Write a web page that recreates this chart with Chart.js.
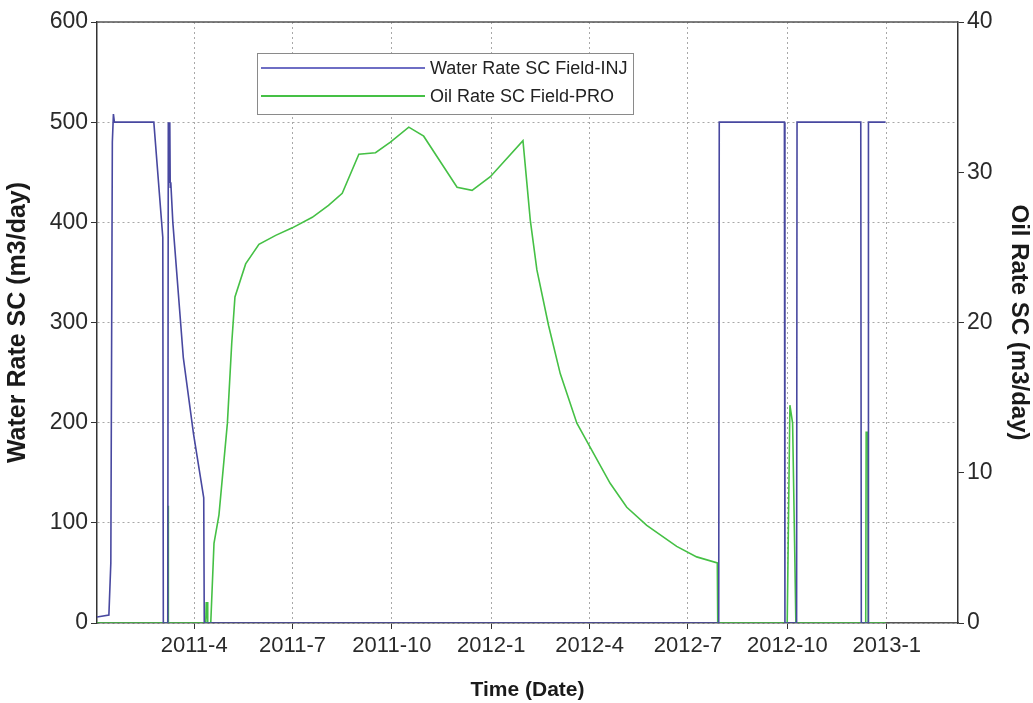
<!DOCTYPE html>
<html>
<head>
<meta charset="utf-8">
<title>Field rates</title>
<script src="https://cdn.jsdelivr.net/npm/chart.js@4"></script>
<style>
  html, body { margin: 0; padding: 0; background: #fff; }
  canvas { display: block; }
</style>
</head>
<body>
<canvas id="rateChart" width="1033" height="703"></canvas>
<script>
// time axis is in days counted from 2011-01-01
const tickDays = [90, 181, 273, 365, 456, 547, 639, 731];
const tickLabels = ['2011-4', '2011-7', '2011-10', '2012-1', '2012-4', '2012-7', '2012-10', '2013-1'];

// water injection rate, m3/day (left axis)
const waterDays = [0, 11, 12.8, 14.2, 15.2, 16.1, 52.6, 60.9, 61.4, 65.5, 66, 66.9, 67.4, 67.8, 68.3, 70.2,
  79.9, 89.3, 98.8, 99.3, 575.5, 576, 636.3, 636.8, 647.6, 648, 707, 707.5, 713.7, 714.1, 730];
const waterRate = [6, 8, 60, 480, 508, 500, 500, 385, 0, 0, 500, 440, 500, 435, 440, 400,
  265, 189, 125, 0, 0, 500, 500, 0, 0, 500, 500, 0, 0, 500, 500];

// oil production rate, m3/day (right axis)
const oilDays = [0, 65.9, 66, 66.1, 100.7, 101.1, 101.6, 102, 102.5, 105.3, 108.3, 112.9, 120.7, 124.7, 127.7,
  137.6, 149.9, 165.4, 180.8, 199.3, 214.3, 227, 242.4, 257.8, 271.6, 288.6, 302.4, 333.3, 347.2, 364.1,
  394.3, 401.1, 407.2, 418, 428.8, 444.2, 454.9, 475, 490.4, 508.9, 536.6, 555.1, 574.2, 574.6,
  638.9, 641.4, 643.9, 646, 646.9, 711.6, 712, 713.5, 713.9, 730];
const oilRate = [0, 0, 7.8, 0, 0, 1.4, 0.3, 1.4, 0, 0, 5.3, 7.2, 13.3, 18.6, 21.7,
  23.9, 25.2, 25.8, 26.3, 27.0, 27.8, 28.6, 31.2, 31.3, 32.0, 33.0, 32.4, 29.0, 28.8, 29.7,
  32.1, 26.8, 23.5, 19.8, 16.6, 13.3, 11.9, 9.3, 7.7, 6.5, 5.1, 4.4, 4.0, 0,
  0, 14.5, 13.3, 4.2, 0, 0, 12.7, 12.7, 0, 0];

const seriesNames = ['Water Rate SC Field-INJ', 'Oil Rate SC Field-PRO'];
const seriesColors = ['#4848a0', '#45c045'];
const legendColors = ['#6e6ec4', '#45c045'];

const toPoints = (xs, ys) => xs.map((x, i) => ({x: x, y: ys[i]}));

const FONT = '"Liberation Sans", Arial, sans-serif';

// legend sits inside the plot, with long line samples
const insideLegend = {
  id: 'insideLegend',
  afterDatasetsDraw(chart) {
    const ctx = chart.ctx;
    const x0 = 257, y0 = 53, w = 376, h = 61;
    ctx.save();
    ctx.fillStyle = '#fff';
    ctx.fillRect(x0, y0, w, h);
    ctx.strokeStyle = '#8a8a8a';
    ctx.lineWidth = 1;
    ctx.strokeRect(x0 + 0.5, y0 + 0.5, w, h);
    ctx.font = '18px ' + FONT;
    ctx.textBaseline = 'middle';
    chart.data.datasets.forEach((ds, i) => {
      const y = y0 + 15 + i * 28;
      ctx.strokeStyle = legendColors[i];
      ctx.lineWidth = 2;
      ctx.beginPath();
      ctx.moveTo(x0 + 4, y);
      ctx.lineTo(x0 + 168, y);
      ctx.stroke();
      ctx.fillStyle = '#222';
      ctx.fillText(ds.label, x0 + 173, y + 1);
    });
    ctx.restore();
  }
};

// closing line along the top of the plot box
const topFrame = {
  id: 'topFrame',
  afterDraw(chart) {
    const a = chart.chartArea, ctx = chart.ctx;
    ctx.save();
    ctx.strokeStyle = '#555';
    ctx.lineWidth = 1.5;
    ctx.beginPath();
    ctx.moveTo(a.left, a.top);
    ctx.lineTo(a.right, a.top);
    ctx.stroke();
    ctx.restore();
  }
};

const ctx = document.getElementById('rateChart').getContext('2d');
new Chart(ctx, {
  type: 'line',
  data: {
    datasets: [
      {label: seriesNames[0], data: toPoints(waterDays, waterRate), yAxisID: 'y',
       borderColor: seriesColors[0], borderWidth: 1.6, pointRadius: 0, tension: 0, fill: false},
      {label: seriesNames[1], data: toPoints(oilDays, oilRate), yAxisID: 'y2',
       borderColor: seriesColors[1], borderWidth: 1.6, pointRadius: 0, tension: 0, fill: false}
    ]
  },
  options: {
    responsive: false,
    animation: false,
    layout: {padding: {top: 22, left: 0, right: 0, bottom: 0}},
    plugins: {legend: {display: false}, tooltip: {enabled: false}},
    scales: {
      x: {
        type: 'linear', min: 0, max: 797,
        afterBuildTicks: s => { s.ticks = tickDays.map(v => ({value: v})); },
        afterFit: s => { s.height = 80; },
        ticks: {
          autoSkip: false, maxRotation: 0, padding: 4, color: '#2a2a2a',
          font: {family: FONT, size: 22},
          callback: (v) => tickLabels[tickDays.indexOf(v)]
        },
        grid: {color: '#a8a8a8', tickColor: '#333', tickLength: 6, tickBorderDash: []},
        border: {color: '#555', width: 1.5, dash: [2, 3]},
        title: {display: true, text: 'Time (Date)', color: '#1a1a1a',
                font: {family: FONT, size: 21, weight: 'bold'}, padding: {top: 0, bottom: 0}}
      },
      y: {
        position: 'left', min: 0, max: 600,
        afterFit: s => { s.width = 97; },
        ticks: {stepSize: 100, padding: 3, color: '#2a2a2a', font: {family: FONT, size: 23}},
        grid: {color: '#a8a8a8', tickColor: '#333', tickLength: 6, tickBorderDash: []},
        border: {color: '#333', width: 1.5, dash: [2, 3]},
        title: {display: true, text: 'Water Rate SC (m3/day)', color: '#1a1a1a',
                font: {family: FONT, size: 25, weight: 'bold'}, padding: {top: 3, bottom: 0}}
      },
      y2: {
        position: 'right', min: 0, max: 40,
        afterFit: s => { s.width = 75; },
        ticks: {stepSize: 10, padding: 3, color: '#2a2a2a', font: {family: FONT, size: 23}},
        grid: {drawOnChartArea: false, tickColor: '#333', tickLength: 6, tickBorderDash: []},
        border: {color: '#333', width: 1.5},
        title: {display: true, text: 'Oil Rate SC (m3/day)', color: '#1a1a1a',
                font: {family: FONT, size: 24, weight: 'bold'}, padding: {top: 0, bottom: 0}}
      }
    }
  },
  plugins: [insideLegend, topFrame]
});
</script>
</body>
</html>
